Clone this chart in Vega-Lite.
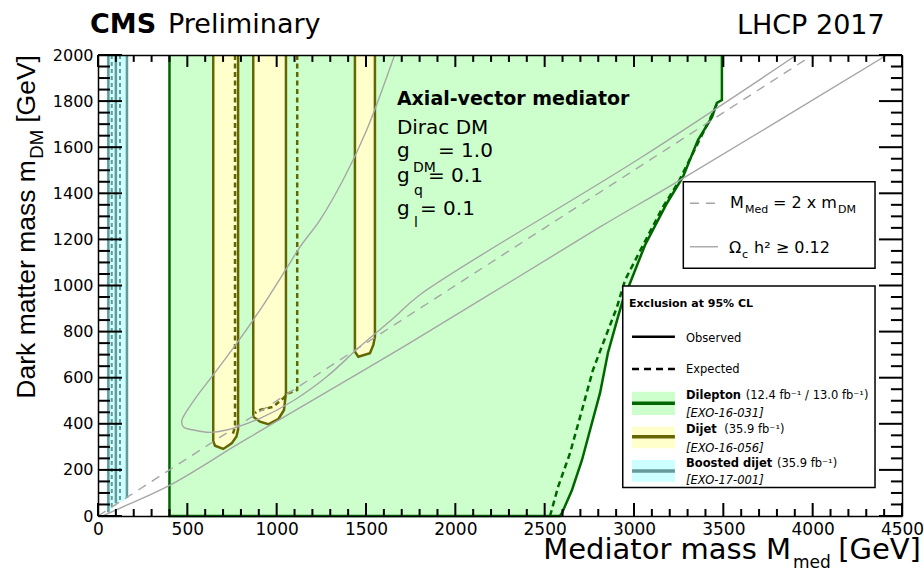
{
  "$schema": "https://vega.github.io/schema/vega-lite/v6.json",
  "width": 804,
  "height": 461,
  "autosize": {"type": "none"},
  "padding": {"left": 98, "top": 55, "right": 22, "bottom": 55},
  "background": "white",
  "config": {
    "view": {"stroke": null},
    "font": "DejaVu Sans",
    "axis": {
      "grid": false, "labels": false, "domain": false, "ticks": false,
      "domainColor": "black", "domainWidth": 1.5,
      "labelFont": "DejaVu Sans", "labelColor": "black",
      "labelFlush": false, "labelOverlap": false, "labelBound": false,
      "format": "d"
    }
  },
  "datasets": {
    "xticks": [
      {"at": 0, "major": true}, {"at": 100, "major": false}, {"at": 200, "major": false}, {"at": 300, "major": false}, {"at": 400, "major": false},
      {"at": 500, "major": true}, {"at": 600, "major": false}, {"at": 700, "major": false}, {"at": 800, "major": false}, {"at": 900, "major": false},
      {"at": 1000, "major": true}, {"at": 1100, "major": false}, {"at": 1200, "major": false}, {"at": 1300, "major": false}, {"at": 1400, "major": false},
      {"at": 1500, "major": true}, {"at": 1600, "major": false}, {"at": 1700, "major": false}, {"at": 1800, "major": false}, {"at": 1900, "major": false},
      {"at": 2000, "major": true}, {"at": 2100, "major": false}, {"at": 2200, "major": false}, {"at": 2300, "major": false}, {"at": 2400, "major": false},
      {"at": 2500, "major": true}, {"at": 2600, "major": false}, {"at": 2700, "major": false}, {"at": 2800, "major": false}, {"at": 2900, "major": false},
      {"at": 3000, "major": true}, {"at": 3100, "major": false}, {"at": 3200, "major": false}, {"at": 3300, "major": false}, {"at": 3400, "major": false},
      {"at": 3500, "major": true}, {"at": 3600, "major": false}, {"at": 3700, "major": false}, {"at": 3800, "major": false}, {"at": 3900, "major": false},
      {"at": 4000, "major": true}, {"at": 4100, "major": false}, {"at": 4200, "major": false}, {"at": 4300, "major": false}, {"at": 4400, "major": false},
      {"at": 4500, "major": true}
    ],
    "yticks": [
      {"at": 0, "major": true}, {"at": 50, "major": false}, {"at": 100, "major": false}, {"at": 150, "major": false},
      {"at": 200, "major": true}, {"at": 250, "major": false}, {"at": 300, "major": false}, {"at": 350, "major": false},
      {"at": 400, "major": true}, {"at": 450, "major": false}, {"at": 500, "major": false}, {"at": 550, "major": false},
      {"at": 600, "major": true}, {"at": 650, "major": false}, {"at": 700, "major": false}, {"at": 750, "major": false},
      {"at": 800, "major": true}, {"at": 850, "major": false}, {"at": 900, "major": false}, {"at": 950, "major": false},
      {"at": 1000, "major": true}, {"at": 1050, "major": false}, {"at": 1100, "major": false}, {"at": 1150, "major": false},
      {"at": 1200, "major": true}, {"at": 1250, "major": false}, {"at": 1300, "major": false}, {"at": 1350, "major": false},
      {"at": 1400, "major": true}, {"at": 1450, "major": false}, {"at": 1500, "major": false}, {"at": 1550, "major": false},
      {"at": 1600, "major": true}, {"at": 1650, "major": false}, {"at": 1700, "major": false}, {"at": 1750, "major": false},
      {"at": 1800, "major": true}, {"at": 1850, "major": false}, {"at": 1900, "major": false}, {"at": 1950, "major": false},
      {"at": 2000, "major": true}
    ],
    "contours": [
      {"curve": "dilepton", "i": 0, "mmed": 400, "mdm": 2000},
      {"curve": "dilepton", "i": 1, "mmed": 400, "mdm": 0},
      {"curve": "dilepton", "i": 2, "mmed": 2585, "mdm": 0},
      {"curve": "dilepton", "i": 3, "mmed": 2597, "mdm": 13},
      {"curve": "dilepton", "i": 4, "mmed": 2653, "mdm": 113},
      {"curve": "dilepton", "i": 5, "mmed": 2709, "mdm": 243},
      {"curve": "dilepton", "i": 6, "mmed": 2754, "mdm": 373},
      {"curve": "dilepton", "i": 7, "mmed": 2810, "mdm": 534},
      {"curve": "dilepton", "i": 8, "mmed": 2854, "mdm": 707},
      {"curve": "dilepton", "i": 9, "mmed": 2910, "mdm": 863},
      {"curve": "dilepton", "i": 10, "mmed": 2938, "mdm": 937},
      {"curve": "dilepton", "i": 11, "mmed": 2978, "mdm": 1011},
      {"curve": "dilepton", "i": 12, "mmed": 3062, "mdm": 1176},
      {"curve": "dilepton", "i": 13, "mmed": 3185, "mdm": 1358},
      {"curve": "dilepton", "i": 14, "mmed": 3274, "mdm": 1471},
      {"curve": "dilepton", "i": 15, "mmed": 3358, "mdm": 1631},
      {"curve": "dilepton", "i": 16, "mmed": 3437, "mdm": 1731},
      {"curve": "dilepton", "i": 17, "mmed": 3464, "mdm": 1792},
      {"curve": "dilepton", "i": 18, "mmed": 3492, "mdm": 1805},
      {"curve": "dilepton", "i": 19, "mmed": 3492, "mdm": 2000},

      {"curve": "dilepton_exp", "i": 0, "mmed": 2530, "mdm": 0},
      {"curve": "dilepton_exp", "i": 1, "mmed": 2575, "mdm": 126},
      {"curve": "dilepton_exp", "i": 2, "mmed": 2642, "mdm": 273},
      {"curve": "dilepton_exp", "i": 3, "mmed": 2709, "mdm": 460},
      {"curve": "dilepton_exp", "i": 4, "mmed": 2770, "mdm": 633},
      {"curve": "dilepton_exp", "i": 5, "mmed": 2849, "mdm": 794},
      {"curve": "dilepton_exp", "i": 6, "mmed": 2905, "mdm": 907},
      {"curve": "dilepton_exp", "i": 7, "mmed": 2950, "mdm": 1024},
      {"curve": "dilepton_exp", "i": 8, "mmed": 3045, "mdm": 1167},
      {"curve": "dilepton_exp", "i": 9, "mmed": 3162, "mdm": 1341},
      {"curve": "dilepton_exp", "i": 10, "mmed": 3246, "mdm": 1445},
      {"curve": "dilepton_exp", "i": 11, "mmed": 3358, "mdm": 1618},
      {"curve": "dilepton_exp", "i": 12, "mmed": 3414, "mdm": 1705},
      {"curve": "dilepton_exp", "i": 13, "mmed": 3470, "mdm": 1796},

      {"curve": "dijet1", "i": 0, "mmed": 645, "mdm": 2000},
      {"curve": "dijet1", "i": 1, "mmed": 645, "mdm": 325},
      {"curve": "dijet1", "i": 2, "mmed": 655, "mdm": 305},
      {"curve": "dijet1", "i": 3, "mmed": 701, "mdm": 291},
      {"curve": "dijet1", "i": 4, "mmed": 748, "mdm": 315},
      {"curve": "dijet1", "i": 5, "mmed": 775, "mdm": 345},
      {"curve": "dijet1", "i": 6, "mmed": 784, "mdm": 375},
      {"curve": "dijet1", "i": 7, "mmed": 784, "mdm": 2000},
      {"curve": "dijet2", "i": 0, "mmed": 869, "mdm": 2000},
      {"curve": "dijet2", "i": 1, "mmed": 869, "mdm": 431},
      {"curve": "dijet2", "i": 2, "mmed": 907, "mdm": 409},
      {"curve": "dijet2", "i": 3, "mmed": 953, "mdm": 398},
      {"curve": "dijet2", "i": 4, "mmed": 1009, "mdm": 420},
      {"curve": "dijet2", "i": 5, "mmed": 1041, "mdm": 460},
      {"curve": "dijet2", "i": 6, "mmed": 1052, "mdm": 534},
      {"curve": "dijet2", "i": 7, "mmed": 1052, "mdm": 2000},
      {"curve": "dijet3", "i": 0, "mmed": 1438, "mdm": 2000},
      {"curve": "dijet3", "i": 1, "mmed": 1438, "mdm": 713},
      {"curve": "dijet3", "i": 2, "mmed": 1457, "mdm": 691},
      {"curve": "dijet3", "i": 3, "mmed": 1522, "mdm": 706},
      {"curve": "dijet3", "i": 4, "mmed": 1541, "mdm": 742},
      {"curve": "dijet3", "i": 5, "mmed": 1550, "mdm": 778},
      {"curve": "dijet3", "i": 6, "mmed": 1550, "mdm": 2000},

      {"curve": "dijet1_exp", "i": 0, "mmed": 767, "mdm": 2000},
      {"curve": "dijet1_exp", "i": 1, "mmed": 767, "mdm": 385},
      {"curve": "dijet1_exp", "i": 2, "mmed": 750, "mdm": 345},
      {"curve": "dijet2_exp", "i": 0, "mmed": 1115, "mdm": 2000},
      {"curve": "dijet2_exp", "i": 1, "mmed": 1115, "mdm": 547},
      {"curve": "dijet2_exp", "i": 2, "mmed": 1065, "mdm": 532},
      {"curve": "dijet2_exp", "i": 3, "mmed": 1037, "mdm": 511},
      {"curve": "dijet2_exp", "i": 4, "mmed": 981, "mdm": 474},
      {"curve": "dijet2_exp", "i": 5, "mmed": 907, "mdm": 460},
      {"curve": "dijet2_exp", "i": 6, "mmed": 879, "mdm": 447},

      {"curve": "boosted_fill", "i": 0, "mmed": 50, "mdm": 2000},
      {"curve": "boosted_fill", "i": 1, "mmed": 50, "mdm": 15},
      {"curve": "boosted_fill", "i": 2, "mmed": 60, "mdm": 18},
      {"curve": "boosted_fill", "i": 3, "mmed": 100, "mdm": 52},
      {"curve": "boosted_fill", "i": 4, "mmed": 168, "mdm": 78},
      {"curve": "boosted_fill", "i": 5, "mmed": 168, "mdm": 2000},
      {"curve": "boosted_a", "i": 0, "mmed": 58, "mdm": 2000},
      {"curve": "boosted_a", "i": 1, "mmed": 58, "mdm": 16},
      {"curve": "boosted_b", "i": 0, "mmed": 100, "mdm": 2000},
      {"curve": "boosted_b", "i": 1, "mmed": 100, "mdm": 55},
      {"curve": "boosted_c", "i": 0, "mmed": 162, "mdm": 2000},
      {"curve": "boosted_c", "i": 1, "mmed": 162, "mdm": 78},
      {"curve": "boosted_d", "i": 0, "mmed": 77, "mdm": 2000},
      {"curve": "boosted_d", "i": 1, "mmed": 77, "mdm": 35},
      {"curve": "boosted_e", "i": 0, "mmed": 123, "mdm": 2000},
      {"curve": "boosted_e", "i": 1, "mmed": 123, "mdm": 65},

      {"curve": "relic_low", "i": 0, "mmed": 25, "mdm": 0},
      {"curve": "relic_low", "i": 1, "mmed": 170, "mdm": 50},
      {"curve": "relic_low", "i": 2, "mmed": 403, "mdm": 134},
      {"curve": "relic_low", "i": 3, "mmed": 823, "mdm": 330},
      {"curve": "relic_low", "i": 4, "mmed": 1746, "mdm": 751},
      {"curve": "relic_low", "i": 5, "mmed": 2810, "mdm": 1254},
      {"curve": "relic_low", "i": 6, "mmed": 3220, "mdm": 1440},
      {"curve": "relic_low", "i": 7, "mmed": 4416, "mdm": 2000},
      {"curve": "relic_loop", "i": 0, "mmed": 1660, "mdm": 2000},
      {"curve": "relic_loop", "i": 1, "mmed": 1504, "mdm": 1675},
      {"curve": "relic_loop", "i": 2, "mmed": 1373, "mdm": 1460},
      {"curve": "relic_loop", "i": 3, "mmed": 1242, "mdm": 1284},
      {"curve": "relic_loop", "i": 4, "mmed": 1131, "mdm": 1168},
      {"curve": "relic_loop", "i": 5, "mmed": 1056, "mdm": 1075},
      {"curve": "relic_loop", "i": 6, "mmed": 907, "mdm": 894},
      {"curve": "relic_loop", "i": 7, "mmed": 776, "mdm": 749},
      {"curve": "relic_loop", "i": 8, "mmed": 645, "mdm": 612},
      {"curve": "relic_loop", "i": 9, "mmed": 552, "mdm": 518},
      {"curve": "relic_loop", "i": 10, "mmed": 478, "mdm": 431},
      {"curve": "relic_loop", "i": 11, "mmed": 468, "mdm": 409},
      {"curve": "relic_loop", "i": 12, "mmed": 480, "mdm": 385},
      {"curve": "relic_loop", "i": 13, "mmed": 534, "mdm": 373},
      {"curve": "relic_loop", "i": 14, "mmed": 627, "mdm": 363},
      {"curve": "relic_loop", "i": 15, "mmed": 720, "mdm": 373},
      {"curve": "relic_loop", "i": 16, "mmed": 907, "mdm": 424},
      {"curve": "relic_loop", "i": 17, "mmed": 1093, "mdm": 500},
      {"curve": "relic_loop", "i": 18, "mmed": 1280, "mdm": 604},
      {"curve": "relic_loop", "i": 19, "mmed": 1466, "mdm": 735},
      {"curve": "relic_loop", "i": 20, "mmed": 1653, "mdm": 858},
      {"curve": "relic_loop", "i": 21, "mmed": 1802, "mdm": 960},
      {"curve": "relic_loop", "i": 22, "mmed": 3033, "mdm": 1552},
      {"curve": "relic_loop", "i": 23, "mmed": 3910, "mdm": 2000},

      {"curve": "diagonal", "i": 0, "mmed": 0, "mdm": 0},
      {"curve": "diagonal", "i": 1, "mmed": 4000, "mdm": 2000}
    ]
  },
  "layer": [
    {
      "data": {"name": "contours"},
      "transform": [{"filter": {"field": "curve", "equal": "dilepton"}}],
      "mark": {"type": "line", "fill": "#ccffcc", "stroke": "#006600", "strokeWidth": 2.5},
      "encoding": {
        "x": {"field": "mmed", "type": "quantitative", "scale": {"domain": [0, 4500], "nice": false},
          "axis": {"orient": "bottom", "values": [0, 500, 1000, 1500, 2000, 2500, 3000, 3500, 4000, 4500],
            "labels": true, "domain": true, "labelFontSize": 17, "labelPadding": 5, "title": null, "zindex": 1}},
        "y": {"field": "mdm", "type": "quantitative", "scale": {"domain": [0, 2000], "nice": false},
          "axis": {"orient": "left", "values": [0, 200, 400, 600, 800, 1000, 1200, 1400, 1600, 1800, 2000],
            "labels": true, "domain": true, "labelFontSize": 16, "labelPadding": 5, "title": null, "zindex": 1}},
        "order": {"field": "i", "type": "quantitative"}
      }
    },
    {
      "data": {"name": "contours"},
      "transform": [{"filter": {"field": "curve", "equal": "boosted_fill"}}],
      "mark": {"type": "line", "fill": "#ccffff", "stroke": "#ccffff", "strokeWidth": 0.5},
      "encoding": {
        "x": {"field": "mmed", "type": "quantitative", "scale": {"domain": [0, 4500], "nice": false}, "axis": null},
        "y": {"field": "mdm", "type": "quantitative", "scale": {"domain": [0, 2000], "nice": false}, "axis": null},
        "order": {"field": "i", "type": "quantitative"}
      }
    },
    {
      "data": {"name": "contours"},
      "transform": [{"filter": {"field": "curve", "oneOf": ["dijet1", "dijet2", "dijet3"]}}],
      "mark": {"type": "line", "fill": "#ffffcc", "stroke": "#666600", "strokeWidth": 2.5},
      "encoding": {
        "x": {"field": "mmed", "type": "quantitative", "scale": {"domain": [0, 4500], "nice": false}, "axis": null},
        "y": {"field": "mdm", "type": "quantitative", "scale": {"domain": [0, 2000], "nice": false}, "axis": null},
        "detail": {"field": "curve"},
        "order": {"field": "i", "type": "quantitative"}
      }
    },
    {
      "data": {"name": "contours"},
      "transform": [{"filter": {"field": "curve", "oneOf": ["boosted_a", "boosted_b", "boosted_c"]}}],
      "mark": {"type": "line", "stroke": "#669999", "strokeWidth": 2.5},
      "encoding": {
        "x": {"field": "mmed", "type": "quantitative", "scale": {"domain": [0, 4500], "nice": false}, "axis": null},
        "y": {"field": "mdm", "type": "quantitative", "scale": {"domain": [0, 2000], "nice": false}, "axis": null},
        "detail": {"field": "curve"},
        "order": {"field": "i", "type": "quantitative"}
      }
    },
    {
      "data": {"name": "contours"},
      "transform": [{"filter": {"field": "curve", "oneOf": ["boosted_d", "boosted_e"]}}],
      "mark": {"type": "line", "stroke": "#669999", "strokeWidth": 2, "strokeDash": [4, 3]},
      "encoding": {
        "x": {"field": "mmed", "type": "quantitative", "scale": {"domain": [0, 4500], "nice": false}, "axis": null},
        "y": {"field": "mdm", "type": "quantitative", "scale": {"domain": [0, 2000], "nice": false}, "axis": null},
        "detail": {"field": "curve"},
        "order": {"field": "i", "type": "quantitative"}
      }
    },
    {
      "data": {"name": "contours"},
      "transform": [{"filter": {"field": "curve", "equal": "dilepton_exp"}}],
      "mark": {"type": "line", "stroke": "#006600", "strokeWidth": 2.5, "strokeDash": [6, 4]},
      "encoding": {
        "x": {"field": "mmed", "type": "quantitative", "scale": {"domain": [0, 4500], "nice": false}, "axis": null},
        "y": {"field": "mdm", "type": "quantitative", "scale": {"domain": [0, 2000], "nice": false}, "axis": null},
        "order": {"field": "i", "type": "quantitative"}
      }
    },
    {
      "data": {"name": "contours"},
      "transform": [{"filter": {"field": "curve", "oneOf": ["dijet1_exp", "dijet2_exp"]}}],
      "mark": {"type": "line", "stroke": "#666600", "strokeWidth": 2.5, "strokeDash": [5, 3.5]},
      "encoding": {
        "x": {"field": "mmed", "type": "quantitative", "scale": {"domain": [0, 4500], "nice": false},
          "axis": {"orient": "top", "domain": true, "title": null, "zindex": 1}},
        "y": {"field": "mdm", "type": "quantitative", "scale": {"domain": [0, 2000], "nice": false},
          "axis": {"orient": "right", "domain": true, "title": null, "zindex": 1}},
        "detail": {"field": "curve"},
        "order": {"field": "i", "type": "quantitative"}
      }
    },
    {
      "data": {"name": "contours"},
      "transform": [{"filter": {"field": "curve", "oneOf": ["relic_low", "relic_loop"]}}],
      "mark": {"type": "line", "stroke": "#a6a6a6", "strokeWidth": 1.4, "interpolate": "catmull-rom", "clip": true},
      "encoding": {
        "x": {"field": "mmed", "type": "quantitative", "scale": {"domain": [0, 4500], "nice": false}, "axis": null},
        "y": {"field": "mdm", "type": "quantitative", "scale": {"domain": [0, 2000], "nice": false}, "axis": null},
        "detail": {"field": "curve"},
        "order": {"field": "i", "type": "quantitative"}
      }
    },
    {
      "data": {"name": "contours"},
      "transform": [{"filter": {"field": "curve", "equal": "diagonal"}}],
      "mark": {"type": "line", "stroke": "#a6a6a6", "strokeWidth": 1.4, "strokeDash": [9, 7]},
      "encoding": {
        "x": {"field": "mmed", "type": "quantitative", "scale": {"domain": [0, 4500], "nice": false}, "axis": null},
        "y": {"field": "mdm", "type": "quantitative", "scale": {"domain": [0, 2000], "nice": false}, "axis": null},
        "order": {"field": "i", "type": "quantitative"}
      }
    },
    {
      "data": {"values": [
        {"box": "relic", "x1": 3276, "x2": 4349, "y1": 1450, "y2": 1075},
        {"box": "exclusion", "x1": 2937, "x2": 4349, "y1": 998, "y2": 124}
      ]},
      "mark": {"type": "rect", "fill": "white", "stroke": "black", "strokeWidth": 1.5},
      "encoding": {
        "x": {"field": "x1", "type": "quantitative", "scale": {"domain": [0, 4500], "nice": false}, "axis": null},
        "x2": {"field": "x2"},
        "y": {"field": "y1", "type": "quantitative", "scale": {"domain": [0, 2000], "nice": false}, "axis": null},
        "y2": {"field": "y2"}
      }
    },
    {
      "data": {"values": [
        {"analysis": "Dilepton", "x1": 2989, "x2": 3229, "y1": 539, "y2": 438},
        {"analysis": "Dijet", "x1": 2989, "x2": 3229, "y1": 387, "y2": 294},
        {"analysis": "Boosted dijet", "x1": 2989, "x2": 3229, "y1": 243, "y2": 149}
      ]},
      "mark": {"type": "rect"},
      "encoding": {
        "x": {"field": "x1", "type": "quantitative", "scale": {"domain": [0, 4500], "nice": false}, "axis": null},
        "x2": {"field": "x2"},
        "y": {"field": "y1", "type": "quantitative", "scale": {"domain": [0, 2000], "nice": false}, "axis": null},
        "y2": {"field": "y2"},
        "fill": {"field": "analysis", "type": "nominal", "legend": null,
          "scale": {"domain": ["Dilepton", "Dijet", "Boosted dijet"], "range": ["#ccffcc", "#ffffcc", "#ccffff"]}}
      }
    },
    {
      "data": {"values": [
        {"analysis": "Dilepton", "x1": 2989, "x2": 3229, "y": 489},
        {"analysis": "Dijet", "x1": 2989, "x2": 3229, "y": 344},
        {"analysis": "Boosted dijet", "x1": 2989, "x2": 3229, "y": 195}
      ]},
      "mark": {"type": "rule", "strokeWidth": 3.5},
      "encoding": {
        "x": {"field": "x1", "type": "quantitative", "scale": {"domain": [0, 4500], "nice": false}, "axis": null},
        "x2": {"field": "x2"},
        "y": {"field": "y", "type": "quantitative", "scale": {"domain": [0, 2000], "nice": false}, "axis": null},
        "stroke": {"field": "analysis", "type": "nominal", "legend": null,
          "scale": {"domain": ["Dilepton", "Dijet", "Boosted dijet"], "range": ["#006600", "#666600", "#669999"]}}
      }
    },
    {
      "data": {"values": [{"x1": 2989, "x2": 3229, "y": 778}]},
      "mark": {"type": "rule", "stroke": "black", "strokeWidth": 2.5},
      "encoding": {
        "x": {"field": "x1", "type": "quantitative", "scale": {"domain": [0, 4500], "nice": false}, "axis": null},
        "x2": {"field": "x2"},
        "y": {"field": "y", "type": "quantitative", "scale": {"domain": [0, 2000], "nice": false}, "axis": null}
      }
    },
    {
      "data": {"values": [{"x1": 2989, "x2": 3229, "y": 638}]},
      "mark": {"type": "rule", "stroke": "black", "strokeWidth": 2.5, "strokeDash": [7, 5]},
      "encoding": {
        "x": {"field": "x1", "type": "quantitative", "scale": {"domain": [0, 4500], "nice": false}, "axis": null},
        "x2": {"field": "x2"},
        "y": {"field": "y", "type": "quantitative", "scale": {"domain": [0, 2000], "nice": false}, "axis": null}
      }
    },
    {
      "data": {"values": [{"x1": 3313, "x2": 3470, "y": 1357}]},
      "mark": {"type": "rule", "stroke": "#a6a6a6", "strokeWidth": 1.4, "strokeDash": [9, 7]},
      "encoding": {
        "x": {"field": "x1", "type": "quantitative", "scale": {"domain": [0, 4500], "nice": false}, "axis": null},
        "x2": {"field": "x2"},
        "y": {"field": "y", "type": "quantitative", "scale": {"domain": [0, 2000], "nice": false}, "axis": null}
      }
    },
    {
      "data": {"values": [{"x1": 3313, "x2": 3470, "y": 1168}]},
      "mark": {"type": "rule", "stroke": "#a6a6a6", "strokeWidth": 1.4},
      "encoding": {
        "x": {"field": "x1", "type": "quantitative", "scale": {"domain": [0, 4500], "nice": false}, "axis": null},
        "x2": {"field": "x2"},
        "y": {"field": "y", "type": "quantitative", "scale": {"domain": [0, 2000], "nice": false}, "axis": null}
      }
    },
    {
      "data": {"values": [{"label": "CMS", "mmed": -45, "mdm": 2095}]},
      "mark": {"type": "text", "align": "left", "baseline": "alphabetic", "font": "DejaVu Sans", "fontWeight": "bold", "fontSize": 27, "color": "black"},
      "encoding": {
        "x": {"field": "mmed", "type": "quantitative", "scale": {"domain": [0, 4500], "nice": false}, "axis": null},
        "y": {"field": "mdm", "type": "quantitative", "scale": {"domain": [0, 2000], "nice": false}, "axis": null},
        "text": {"field": "label"}
      }
    },
    {
      "data": {"values": [
        {"label": "Preliminary", "mmed": 392, "mdm": 2095},
        {"label": "LHCP 2017", "mmed": 3576, "mdm": 2093}
      ]},
      "mark": {"type": "text", "align": "left", "baseline": "alphabetic", "font": "DejaVu Sans", "fontSize": 27, "color": "black"},
      "encoding": {
        "x": {"field": "mmed", "type": "quantitative", "scale": {"domain": [0, 4500], "nice": false}, "axis": null},
        "y": {"field": "mdm", "type": "quantitative", "scale": {"domain": [0, 2000], "nice": false}, "axis": null},
        "text": {"field": "label"}
      }
    },
    {
      "data": {"values": [{"label": "Axial-vector mediator", "mmed": 1673, "mdm": 1783}]},
      "mark": {"type": "text", "align": "left", "baseline": "alphabetic", "font": "DejaVu Sans", "fontWeight": "bold", "fontSize": 19, "color": "black"},
      "encoding": {
        "x": {"field": "mmed", "type": "quantitative", "scale": {"domain": [0, 4500], "nice": false}, "axis": null},
        "y": {"field": "mdm", "type": "quantitative", "scale": {"domain": [0, 2000], "nice": false}, "axis": null},
        "text": {"field": "label"}
      }
    },
    {
      "data": {"values": [
        {"label": "Dirac DM", "mmed": 1673, "mdm": 1657},
        {"label": "g", "mmed": 1673, "mdm": 1557},
        {"label": "= 1.0", "mmed": 1903, "mdm": 1557},
        {"label": "g", "mmed": 1673, "mdm": 1449},
        {"label": "= 0.1", "mmed": 1847, "mdm": 1449},
        {"label": "g", "mmed": 1673, "mdm": 1306},
        {"label": "= 0.1", "mmed": 1802, "mdm": 1306}
      ]},
      "mark": {"type": "text", "align": "left", "baseline": "alphabetic", "font": "DejaVu Sans", "fontSize": 20, "color": "black"},
      "encoding": {
        "x": {"field": "mmed", "type": "quantitative", "scale": {"domain": [0, 4500], "nice": false}, "axis": null},
        "y": {"field": "mdm", "type": "quantitative", "scale": {"domain": [0, 2000], "nice": false}, "axis": null},
        "text": {"field": "label"}
      }
    },
    {
      "data": {"values": [
        {"label": "DM", "mmed": 1763, "mdm": 1492},
        {"label": "q", "mmed": 1769, "mdm": 1393},
        {"label": "l", "mmed": 1769, "mdm": 1254}
      ]},
      "mark": {"type": "text", "align": "left", "baseline": "alphabetic", "font": "DejaVu Sans", "fontSize": 14, "color": "black"},
      "encoding": {
        "x": {"field": "mmed", "type": "quantitative", "scale": {"domain": [0, 4500], "nice": false}, "axis": null},
        "y": {"field": "mdm", "type": "quantitative", "scale": {"domain": [0, 2000], "nice": false}, "axis": null},
        "text": {"field": "label"}
      }
    },
    {
      "data": {"values": [
        {"label": "M", "mmed": 3537, "mdm": 1336},
        {"label": "= 2 x m", "mmed": 3778, "mdm": 1336},
        {"label": "Ω", "mmed": 3532, "mdm": 1141},
        {"label": "h² ≥ 0.12", "mmed": 3672, "mdm": 1141}
      ]},
      "mark": {"type": "text", "align": "left", "baseline": "alphabetic", "font": "DejaVu Sans", "fontSize": 16, "color": "black"},
      "encoding": {
        "x": {"field": "mmed", "type": "quantitative", "scale": {"domain": [0, 4500], "nice": false}, "axis": null},
        "y": {"field": "mdm", "type": "quantitative", "scale": {"domain": [0, 2000], "nice": false}, "axis": null},
        "text": {"field": "label"}
      }
    },
    {
      "data": {"values": [
        {"label": "Med", "mmed": 3621, "mdm": 1315},
        {"label": "DM", "mmed": 4142, "mdm": 1315},
        {"label": "c", "mmed": 3604, "mdm": 1119}
      ]},
      "mark": {"type": "text", "align": "left", "baseline": "alphabetic", "font": "DejaVu Sans", "fontSize": 11, "color": "black"},
      "encoding": {
        "x": {"field": "mmed", "type": "quantitative", "scale": {"domain": [0, 4500], "nice": false}, "axis": null},
        "y": {"field": "mdm", "type": "quantitative", "scale": {"domain": [0, 2000], "nice": false}, "axis": null},
        "text": {"field": "label"}
      }
    },
    {
      "data": {"values": [{"label": "Exclusion at 95% CL", "mmed": 2972, "mdm": 908}]},
      "mark": {"type": "text", "align": "left", "baseline": "alphabetic", "font": "DejaVu Sans", "fontWeight": "bold", "fontSize": 11, "color": "black"},
      "encoding": {
        "x": {"field": "mmed", "type": "quantitative", "scale": {"domain": [0, 4500], "nice": false}, "axis": null},
        "y": {"field": "mdm", "type": "quantitative", "scale": {"domain": [0, 2000], "nice": false}, "axis": null},
        "text": {"field": "label"}
      }
    },
    {
      "data": {"values": [
        {"label": "Dilepton", "mmed": 3291, "mdm": 506},
        {"label": "Dijet", "mmed": 3291, "mdm": 359},
        {"label": "Boosted dijet", "mmed": 3291, "mdm": 214}
      ]},
      "mark": {"type": "text", "align": "left", "baseline": "alphabetic", "font": "DejaVu Sans", "fontWeight": "bold", "fontSize": 11.5, "color": "black"},
      "encoding": {
        "x": {"field": "mmed", "type": "quantitative", "scale": {"domain": [0, 4500], "nice": false}, "axis": null},
        "y": {"field": "mdm", "type": "quantitative", "scale": {"domain": [0, 2000], "nice": false}, "axis": null},
        "text": {"field": "label"}
      }
    },
    {
      "data": {"values": [
        {"label": "Observed", "mmed": 3291, "mdm": 756},
        {"label": "Expected", "mmed": 3291, "mdm": 619},
        {"label": "(12.4 fb⁻¹ / 13.0 fb⁻¹)", "mmed": 3625, "mdm": 506},
        {"label": "(35.9 fb⁻¹)", "mmed": 3505, "mdm": 359},
        {"label": "(35.9 fb⁻¹)", "mmed": 3800, "mdm": 214}
      ]},
      "mark": {"type": "text", "align": "left", "baseline": "alphabetic", "font": "DejaVu Sans", "fontSize": 11.5, "color": "black"},
      "encoding": {
        "x": {"field": "mmed", "type": "quantitative", "scale": {"domain": [0, 4500], "nice": false}, "axis": null},
        "y": {"field": "mdm", "type": "quantitative", "scale": {"domain": [0, 2000], "nice": false}, "axis": null},
        "text": {"field": "label"}
      }
    },
    {
      "data": {"values": [
        {"label": "[EXO-16-031]", "mmed": 3291, "mdm": 431},
        {"label": "[EXO-16-056]", "mmed": 3291, "mdm": 279},
        {"label": "[EXO-17-001]", "mmed": 3291, "mdm": 139}
      ]},
      "mark": {"type": "text", "align": "left", "baseline": "alphabetic", "font": "DejaVu Sans", "fontStyle": "italic", "fontSize": 11.5, "color": "black"},
      "encoding": {
        "x": {"field": "mmed", "type": "quantitative", "scale": {"domain": [0, 4500], "nice": false}, "axis": null},
        "y": {"field": "mdm", "type": "quantitative", "scale": {"domain": [0, 2000], "nice": false}, "axis": null},
        "text": {"field": "label"}
      }
    },
    {
      "data": {"values": [
        {"label": "Mediator mass M", "mmed": 3879, "mdm": -186},
        {"label": "[GeV]", "mmed": 4606, "mdm": -186}
      ]},
      "mark": {"type": "text", "align": "right", "baseline": "alphabetic", "font": "DejaVu Sans", "fontSize": 29, "color": "black"},
      "encoding": {
        "x": {"field": "mmed", "type": "quantitative", "scale": {"domain": [0, 4500], "nice": false}, "axis": null},
        "y": {"field": "mdm", "type": "quantitative", "scale": {"domain": [0, 2000], "nice": false}, "axis": null},
        "text": {"field": "label"}
      }
    },
    {
      "data": {"values": [{"label": "med", "mmed": 3890, "mdm": -224}]},
      "mark": {"type": "text", "align": "left", "baseline": "alphabetic", "font": "DejaVu Sans", "fontSize": 17, "color": "black"},
      "encoding": {
        "x": {"field": "mmed", "type": "quantitative", "scale": {"domain": [0, 4500], "nice": false}, "axis": null},
        "y": {"field": "mdm", "type": "quantitative", "scale": {"domain": [0, 2000], "nice": false}, "axis": null},
        "text": {"field": "label"}
      }
    },
    {
      "data": {"values": [
        {"label": "Dark matter mass m", "mmed": -353, "mdm": 1544},
        {"label": "[GeV]", "mmed": -353, "mdm": 2000}
      ]},
      "mark": {"type": "text", "align": "right", "baseline": "alphabetic", "angle": 270, "font": "Liberation Sans", "fontSize": 26.5, "color": "black"},
      "encoding": {
        "x": {"field": "mmed", "type": "quantitative", "scale": {"domain": [0, 4500], "nice": false}, "axis": null},
        "y": {"field": "mdm", "type": "quantitative", "scale": {"domain": [0, 2000], "nice": false}, "axis": null},
        "text": {"field": "label"}
      }
    },
    {
      "data": {"values": [{"label": "DM", "mmed": -308, "mdm": 1675}]},
      "mark": {"type": "text", "align": "right", "baseline": "alphabetic", "angle": 270, "font": "Liberation Sans", "fontSize": 18.5, "color": "black"},
      "encoding": {
        "x": {"field": "mmed", "type": "quantitative", "scale": {"domain": [0, 4500], "nice": false}, "axis": null},
        "y": {"field": "mdm", "type": "quantitative", "scale": {"domain": [0, 2000], "nice": false}, "axis": null},
        "text": {"field": "label"}
      }
    },
    {
      "data": {"name": "xticks"},
      "transform": [{"filter": {"field": "major", "equal": true}}],
      "mark": {"type": "tick", "orient": "vertical", "size": 13, "thickness": 2, "yOffset": -6.5, "color": "black", "opacity": 1},
      "encoding": {
        "x": {"field": "at", "type": "quantitative", "scale": {"domain": [0, 4500], "nice": false}, "axis": null},
        "y": {"datum": 0, "type": "quantitative", "scale": {"domain": [0, 2000], "nice": false}, "axis": null}
      }
    },
    {
      "data": {"name": "xticks"},
      "transform": [{"filter": {"field": "major", "equal": false}}],
      "mark": {"type": "tick", "orient": "vertical", "size": 7, "thickness": 2, "yOffset": -3.5, "color": "black", "opacity": 1},
      "encoding": {
        "x": {"field": "at", "type": "quantitative", "scale": {"domain": [0, 4500], "nice": false}, "axis": null},
        "y": {"datum": 0, "type": "quantitative", "scale": {"domain": [0, 2000], "nice": false}, "axis": null}
      }
    },
    {
      "data": {"name": "yticks"},
      "transform": [{"filter": {"field": "major", "equal": true}}],
      "mark": {"type": "tick", "orient": "horizontal", "size": 24, "thickness": 2, "xOffset": 12, "color": "black", "opacity": 1},
      "encoding": {
        "y": {"field": "at", "type": "quantitative", "scale": {"domain": [0, 2000], "nice": false}, "axis": null},
        "x": {"datum": 0, "type": "quantitative", "scale": {"domain": [0, 4500], "nice": false}, "axis": null}
      }
    },
    {
      "data": {"name": "yticks"},
      "transform": [{"filter": {"field": "major", "equal": false}}],
      "mark": {"type": "tick", "orient": "horizontal", "size": 12, "thickness": 2, "xOffset": 6, "color": "black", "opacity": 1},
      "encoding": {
        "y": {"field": "at", "type": "quantitative", "scale": {"domain": [0, 2000], "nice": false}, "axis": null},
        "x": {"datum": 0, "type": "quantitative", "scale": {"domain": [0, 4500], "nice": false}, "axis": null}
      }
    },
    {
      "data": {"name": "xticks"},
      "transform": [{"filter": {"field": "major", "equal": true}}],
      "mark": {"type": "rule", "stroke": "black", "strokeWidth": 2, "opacity": 1},
      "encoding": {
        "x": {"field": "at", "type": "quantitative", "scale": {"domain": [0, 4500], "nice": false}, "axis": null},
        "y": {"datum": 2000, "type": "quantitative", "scale": {"domain": [0, 2000], "nice": false}, "axis": null},
        "y2": {"datum": 1948}
      }
    },
    {
      "data": {"name": "xticks"},
      "transform": [{"filter": {"field": "major", "equal": false}}],
      "mark": {"type": "rule", "stroke": "black", "strokeWidth": 2, "opacity": 1},
      "encoding": {
        "x": {"field": "at", "type": "quantitative", "scale": {"domain": [0, 4500], "nice": false}, "axis": null},
        "y": {"datum": 2000, "type": "quantitative", "scale": {"domain": [0, 2000], "nice": false}, "axis": null},
        "y2": {"datum": 1970}
      }
    },
    {
      "data": {"name": "yticks"},
      "transform": [{"filter": {"field": "major", "equal": true}}],
      "mark": {"type": "rule", "stroke": "black", "strokeWidth": 2, "opacity": 1},
      "encoding": {
        "y": {"field": "at", "type": "quantitative", "scale": {"domain": [0, 2000], "nice": false}, "axis": null},
        "x": {"datum": 4500, "type": "quantitative", "scale": {"domain": [0, 4500], "nice": false}, "axis": null},
        "x2": {"datum": 4371}
      }
    },
    {
      "data": {"name": "yticks"},
      "transform": [{"filter": {"field": "major", "equal": false}}],
      "mark": {"type": "rule", "stroke": "black", "strokeWidth": 2, "opacity": 1},
      "encoding": {
        "y": {"field": "at", "type": "quantitative", "scale": {"domain": [0, 2000], "nice": false}, "axis": null},
        "x": {"datum": 4500, "type": "quantitative", "scale": {"domain": [0, 4500], "nice": false}, "axis": null},
        "x2": {"datum": 4438}
      }
    }
  ],
  "resolve": {"axis": {"x": "independent", "y": "independent"}}
}
